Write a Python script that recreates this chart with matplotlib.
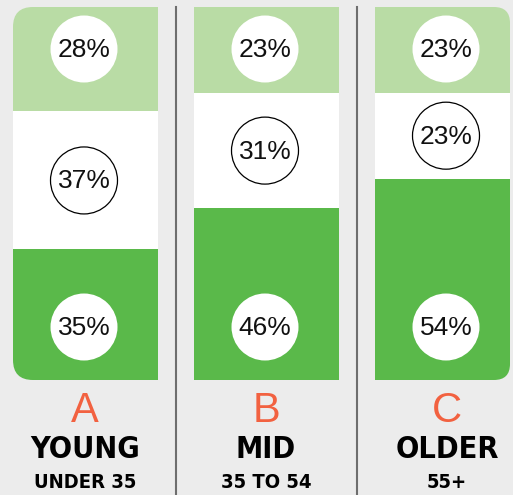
import matplotlib
matplotlib.use("Agg")
import matplotlib.pyplot as plt
from matplotlib.patches import Rectangle, Circle, FancyBboxPatch

# data
letters = ["A", "B", "C"]
groups = ["YOUNG", "MID", "OLDER"]
subtitles = ["UNDER 35", "35 TO 54", "55+"]
top_share = [28, 23, 23]
middle_share = [37, 31, 23]
bottom_share = [35, 46, 54]

BG = "#ececec"
LIGHT = "#b9dca5"
GREEN = "#5ab94a"
ORANGE = "#f26140"

W, H = 513, 495
fig = plt.figure(figsize=(W / 100, H / 100), dpi=100, facecolor=BG)
ax = fig.add_axes([0, 0, 1, 1])
ax.set_xlim(0, W)
ax.set_ylim(H, 0)
ax.axis("off")
ax.set_facecolor(BG)

bar_left = [13, 194, 375]
bar_w = 145
bar_top, bar_bot = 7, 380
rad = 20
pct_font = dict(family=["Liberation Sans", "DejaVu Sans"], fontsize=19, color="#111111")
cond = dict(family=["DejaVu Sans"], stretch="condensed", weight="bold")

for i in range(3):
    x0 = bar_left[i]
    w = bar_w if i < 2 else W - x0
    scale = (bar_bot - bar_top) / 100.0
    y1 = bar_top + top_share[i] * scale
    y2 = y1 + middle_share[i] * scale

    # clip with rounded outer corners only
    if i == 0:
        clip = FancyBboxPatch((x0, bar_top), w + 60, bar_bot - bar_top,
                              boxstyle=f"round,pad=0,rounding_size={rad}",
                              transform=ax.transData, fc="none", ec="none")
    elif i == 2:
        clip = FancyBboxPatch((x0 - 60, bar_top), w + 60 - 3, bar_bot - bar_top,
                              boxstyle=f"round,pad=0,rounding_size={rad - 4}",
                              transform=ax.transData, fc="none", ec="none")
    else:
        clip = Rectangle((x0, bar_top), w, bar_bot - bar_top,
                         transform=ax.transData, fc="none", ec="none")
    ax.add_patch(clip)

    segs = [(bar_top, y1, LIGHT), (y1, y2, "white"), (y2, bar_bot, GREEN)]
    for ya, yb, c in segs:
        r = Rectangle((x0, ya), w, yb - ya, fc=c, ec="none")
        ax.add_patch(r)
        r.set_clip_path(clip)

    cx = x0 + 71
    cr = 33.5
    # top circle
    ax.add_patch(Circle((cx, 49), cr, fc="white", ec="none", zorder=3))
    ax.text(cx, 50, f"{top_share[i]}%", ha="center", va="center", zorder=4, **pct_font)
    # middle circle
    my = (y1 + y2) / 2
    ax.add_patch(Circle((cx, my), cr, fc="white", ec="black", lw=0.9, zorder=3))
    ax.text(cx, my + 1, f"{middle_share[i]}%", ha="center", va="center", zorder=4, **pct_font)
    # bottom circle
    ax.add_patch(Circle((cx, 327), cr, fc="white", ec="none", zorder=3))
    ax.text(cx, 328, f"{bottom_share[i]}%", ha="center", va="center", zorder=4, **pct_font)

    lx = x0 + 72
    ax.text(lx, 411, letters[i], ha="center", va="center", color=ORANGE,
            fontsize=30, family=["Liberation Sans", "DejaVu Sans"])
    ax.text(lx, 450, groups[i], ha="center", va="center", color="black",
            fontsize=22, **cond)
    ax.text(lx, 483, subtitles[i], ha="center", va="center", color="black",
            fontsize=14.5, **cond)

# separators
for sx in [176, 357]:
    ax.plot([sx, sx], [7, H], color="#6e6e6e", lw=1.5)

fig.savefig("out.png", dpi=100, facecolor=BG)
